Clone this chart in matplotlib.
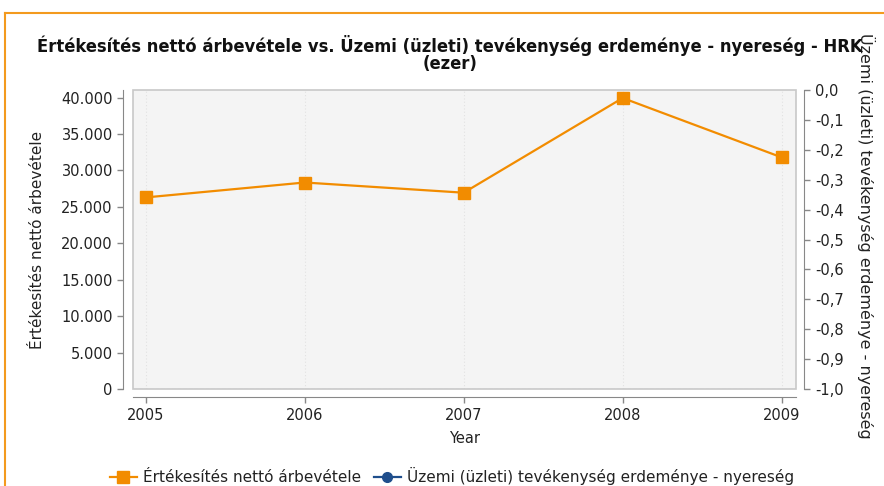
import matplotlib
matplotlib.use("Agg")
import matplotlib.pyplot as plt
from matplotlib.lines import Line2D
import numpy as np

years = [2005, 2006, 2007, 2008, 2009]
arbevetel = [26300, 28350, 26950, 39950, 31800]
uzemi = [np.nan, np.nan, np.nan, np.nan, np.nan]
left_ticks = [0, 5000, 10000, 15000, 20000, 25000, 30000, 35000, 40000]
left_labels = ["0", "5.000", "10.000", "15.000", "20.000", "25.000", "30.000", "35.000", "40.000"]
right_ticks = [-1.0, -0.9, -0.8, -0.7, -0.6, -0.5, -0.4, -0.3, -0.2, -0.1, 0.0]
right_labels = ["-1,0", "-0,9", "-0,8", "-0,7", "-0,6", "-0,5", "-0,4", "-0,3", "-0,2", "-0,1", "0,0"]

title_l1 = "Értékesítés nettó árbevétele vs. Üzemi (üzleti) tevékenység erdeménye - nyereség - HRK"
title_l2 = "(ezer)"
name1 = "Értékesítés nettó árbevétele"
name2 = "Üzemi (üzleti) tevékenység erdeménye - nyereség"

ORANGE = "#f28c00"
BLUE = "#1f4e8c"
TXT = "#222222"
W, H = 884, 486
fig = plt.figure(figsize=(W / 100, H / 100), dpi=100)
ax = fig.add_axes([133 / W, 1 - 389 / H, (796 - 133) / W, (389 - 90) / H])
ax.set_facecolor("#f4f4f4")
for s in ax.spines.values():
    s.set_visible(False)
ax.add_patch(plt.Rectangle((0, 0), 1, 1, transform=ax.transAxes, fill=False,
                           edgecolor="#c8c8c8", lw=1.2, zorder=5, clip_on=False))

ax.plot(years, arbevetel, color=ORANGE, lw=1.6, marker="s", ms=9,
        markeredgecolor=ORANGE, zorder=6, clip_on=False)
ax.axhline(0, color="#7a80d0", lw=0.8, ls=(0, (3, 2)), zorder=4)
ax.set_xlim(2004.92, 2009.09)
ax.set_ylim(0, 41050)
ax.set_xticks(years)
ax.set_xticklabels([str(y) for y in years])
ax.set_yticks(left_ticks)
ax.set_yticklabels(left_labels)
ax.xaxis.grid(True, color="#e2e2e2", lw=0.8, ls=(0, (1, 2)))

ax.spines["left"].set_visible(True)
ax.spines["left"].set_position(("outward", 7))
ax.spines["left"].set_color("#888888")
ax.spines["bottom"].set_visible(True)
ax.spines["bottom"].set_position(("outward", 6))
ax.spines["bottom"].set_color("#888888")
ax.tick_params(axis="both", colors="#888888", labelcolor=TXT,
               labelsize=10.5, length=4, width=1)

ax2 = ax.twinx()
for s in ax2.spines.values():
    s.set_visible(False)
ax2.spines["right"].set_visible(True)
ax2.spines["right"].set_position(("outward", 6))
ax2.spines["right"].set_color("#888888")
ax2.plot(years, uzemi, color=BLUE, marker="o")
ax2.set_ylim(-1.0, 0.0)
ax2.set_yticks(right_ticks)
ax2.set_yticklabels(right_labels)
ax2.tick_params(axis="y", colors="#888888", labelcolor=TXT,
                labelsize=10.5, length=4, width=1)

ax.set_xlabel("Year", fontsize=10.5, color=TXT, labelpad=6)
fig.text(38 / W, 1 - 240 / H, name1, rotation=90, ha="center", va="center",
         fontsize=11, color=TXT)
fig.text(866 / W, 1 - 236 / H, name2, rotation=270, ha="center", va="center",
         fontsize=11.5, color=TXT)

t1 = fig.text(450 / W, 1 - 45 / H, title_l1, ha="center", va="center", fontsize=13,
              fontweight="bold", fontstretch="condensed", color="#111111")
fig.canvas.draw()
wpx = t1.get_window_extent().width
t1.set_fontsize(13 * 824 / wpx)
fig.text(450 / W, 1 - 64 / H, title_l2, ha="center", va="center",
         fontsize=t1.get_fontsize(), fontweight="bold", fontstretch="condensed",
         color="#111111")

handles = [Line2D([], [], color=ORANGE, lw=1.6, marker="s", ms=8),
           Line2D([], [], color=BLUE, lw=1.6, marker="o", ms=7)]
fig.legend(handles, [name1, name2], loc="center", bbox_to_anchor=(452 / W, 1 - 476 / H),
           ncol=2, frameon=False, fontsize=11, handlelength=1.8, handletextpad=0.4,
           columnspacing=0.8, labelcolor=TXT)

fig.add_artist(Line2D([5 / W, 1], [1 - 13 / H, 1 - 13 / H], color="#f39a1e", lw=1.5))
fig.add_artist(Line2D([5 / W, 5 / W], [0, 1 - 13 / H], color="#f39a1e", lw=1.5))

fig.savefig("out.png", dpi=100)
